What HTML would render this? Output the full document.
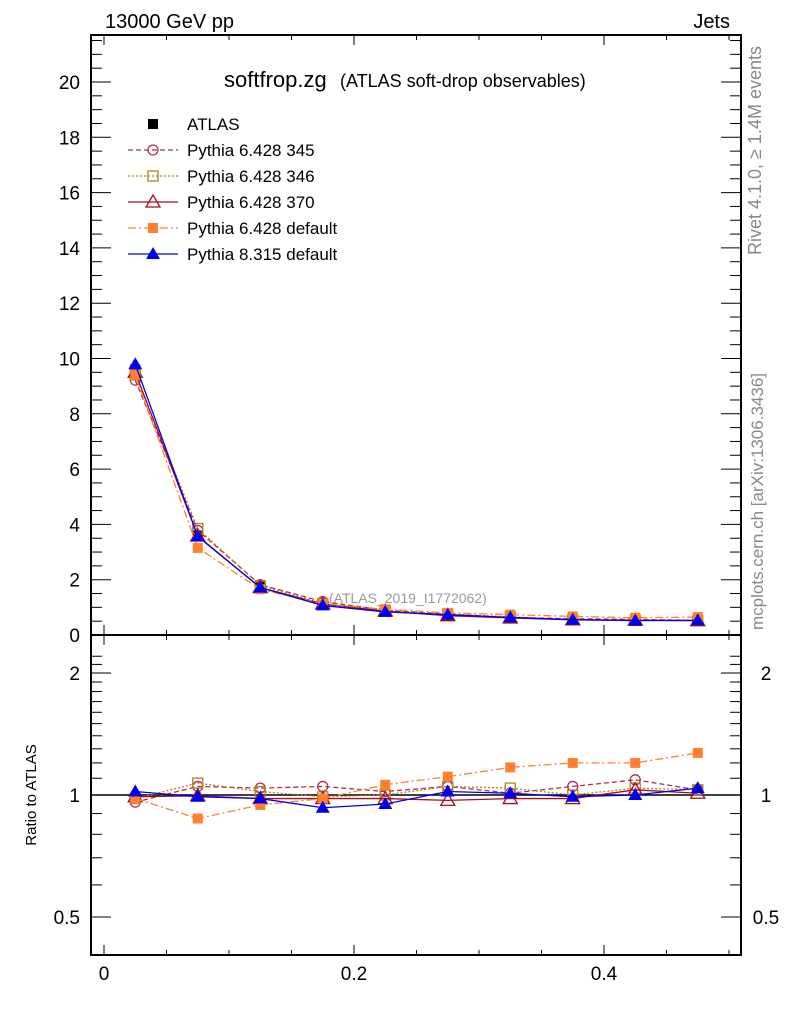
<!DOCTYPE html>
<html><head><meta charset="utf-8"><style>
body{margin:0;background:#fff}
svg text{font-family:"Liberation Sans",sans-serif}
</style></head><body>
<svg id="c" width="786" height="1024" viewBox="0 0 786 1024" xmlns="http://www.w3.org/2000/svg">
<rect width="786" height="1024" fill="#fff"/>
<text x="105" y="28" font-size="20">13000 GeV pp</text>
<text x="730" y="28" font-size="20" text-anchor="end">Jets</text>
<text x="224" y="87" font-size="22">softfrop.zg</text>
<text x="340" y="87" font-size="18">(ATLAS soft-drop observables)</text>
<text x="329" y="603" font-size="14" fill="#999">(ATLAS_2019_I1772062)</text>
<text transform="translate(761,255) rotate(-90)" font-size="18" fill="#888">Rivet 4.1.0, ≥ 1.4M events</text>
<text transform="translate(763,630) rotate(-90)" font-size="17" fill="#888">mcplots.cern.ch [arXiv:1306.3436]</text>
<text transform="translate(36,795) rotate(-90)" font-size="15" text-anchor="middle">Ratio to ATLAS</text>
<g id="g"></g>
</svg>
<script>
const xCenters=[0.025,0.075,0.125,0.175,0.225,0.275,0.325,0.375,0.425,0.475];
const atlas=[9.6,3.6,1.75,1.15,0.88,0.72,0.63,0.56,0.52,0.51];
const ratio345=[0.96,1.05,1.04,1.05,1.02,1.05,1.01,1.05,1.09,1.03];
const ratio346=[0.98,1.07,1.02,0.99,1.0,1.05,1.04,1.0,1.04,1.03];
const ratio370=[0.99,0.995,0.98,0.98,0.98,0.97,0.98,0.98,1.03,1.01];
const ratioDef6=[0.98,0.875,0.945,0.98,1.06,1.11,1.17,1.20,1.20,1.27];
const ratioDef8=[1.02,0.99,0.98,0.93,0.95,1.02,1.01,0.99,1.0,1.04];
const yTicks=[0,2,4,6,8,10,12,14,16,18,20];
const xTickLabels=[0,0.2,0.4];
const rTicks=[0.5,1,2];

const NS="http://www.w3.org/2000/svg";
const g=document.getElementById('g');
const L=91,R=741,T=35,M=635,B=955;
const X=v=>104+v*1250;
const Y=v=>M-v*27.65;
const RY=v=>795-Math.log2(v)*122;
function el(t,a,p){const e=document.createElementNS(NS,t);for(const k in a)e.setAttribute(k,a[k]);(p||g).appendChild(e);return e;}
function line(x1,y1,x2,y2,w){const e=el('line',{x1,y1,x2,y2,stroke:'#000','stroke-width':w||1});return e;}
const f1=el('rect',{x:L,y:T,width:R-L,height:M-T,fill:'none',stroke:'#000','stroke-width':2});

const f2=el('rect',{x:L,y:M,width:R-L,height:B-M,fill:'none',stroke:'#000','stroke-width':2});

for(let v=0;v<=21.5;v+=0.5){const y=Y(v);const maj=Math.abs(v%2)<1e-6;const len=maj?20:11;line(L,y,L+len,y);line(R,y,R-len,y);}
yTicks.forEach(v=>{const t=el('text',{x:80,y:Y(v)+7,'font-size':19,'text-anchor':'end'});t.textContent=v;});
for(let v=0;v<=0.5001;v+=0.05){const x=X(v);const maj=Math.abs((v/0.1)-Math.round(v/0.1))<1e-6&&Math.round(v/0.1)%2==0;const len=maj?10:5;
[T,M].forEach(y=>line(x,y,x,y+len));[M,B].forEach(y=>line(x,y,x,y-len));}
xTickLabels.forEach(v=>{const t=el('text',{x:X(v),y:980,'font-size':19,'text-anchor':'middle'});t.textContent=v;});
for(let v=0.5;v<=2.25;v+=0.1){const y=RY(v);if(y<M||y>B)continue;const maj=[0.5,1,2].some(m=>Math.abs(m-v)<1e-6);const len=maj?20:11;line(L,y,L+len,y);line(R,y,R-len,y);}
rTicks.forEach(v=>{[[80,'end'],[766,'middle']].forEach(([x,a])=>{const t=el('text',{x,y:RY(v)+7,'font-size':19,'text-anchor':a});t.textContent=v;});});
const ref=line(L,RY(1),R,RY(1),1.5);
const series=[
 {name:'pythia-6428-345',label:'Pythia 6.428 345',r:ratio345,c:'#b03050',dash:'5,3',m:'circle'},
 {name:'pythia-6428-346',label:'Pythia 6.428 346',r:ratio346,c:'#b08020',dash:'2,2',m:'square-open'},
 {name:'pythia-6428-370',label:'Pythia 6.428 370',r:ratio370,c:'#a01020',dash:'',m:'tri-open'},
 {name:'pythia-6428-default',label:'Pythia 6.428 default',r:ratioDef6,c:'#ff8030',dash:'8,3,2,3',m:'square'},
 {name:'pythia-8315-default',label:'Pythia 8.315 default',r:ratioDef8,c:'#0000ee',dash:'',m:'tri'}];
function marker(m,x,y,c,p){let e;
 if(m=='circle')e=el('circle',{cx:x,cy:y,r:5,fill:'none',stroke:c,'stroke-width':1.3},p);
 else if(m=='square-open')e=el('rect',{x:x-5,y:y-5,width:10,height:10,fill:'none',stroke:c,'stroke-width':1.3},p);
 else if(m=='square')e=el('rect',{x:x-5,y:y-5,width:10,height:10,fill:c},p);
 else if(m=='black')e=el('rect',{x:x-5,y:y-5,width:10,height:10,fill:'#000'},p);
 else if(m=='tri-open')e=el('polygon',{points:`${x},${y-7} ${x-7},${y+5} ${x+7},${y+5}`,fill:'none',stroke:c,'stroke-width':1.3},p);
 else e=el('polygon',{points:`${x},${y-7} ${x-7},${y+5} ${x+7},${y+5}`,fill:c},p);
 return e;}
atlas.forEach((v,i)=>{const e=marker('black',X(xCenters[i]),Y(v));});
series.forEach(s=>{
 const main=el('g',{});
 const pts=xCenters.map((x,i)=>[X(x),Y(atlas[i]*s.r[i])]);
 const rp=xCenters.map((x,i)=>[X(x),RY(s.r[i])]);
 [pts,rp].forEach(P=>{el('polyline',{points:P.map(p=>p.join(',')).join(' '),fill:'none',stroke:s.c,'stroke-width':1.3,'stroke-dasharray':s.dash},main);
  P.forEach(p=>{const e=marker(s.m,p[0],p[1],s.c,main);});});
});
const leg=[{label:'ATLAS',m:'black',c:'#000',dash:null}].concat(series);
leg.forEach((s,i)=>{const y=124+i*26;const lg=el('g',{});
 if(s.dash!==null&&s.dash!==undefined)el('line',{x1:128,y1:y,x2:178,y2:y,stroke:s.c,'stroke-width':1.3,'stroke-dasharray':s.dash},lg);
 marker(s.m,153,y,s.c,lg);
 const t=el('text',{x:187,y:y+6,'font-size':17},lg);t.textContent=s.label;});
</script>
</body></html>
